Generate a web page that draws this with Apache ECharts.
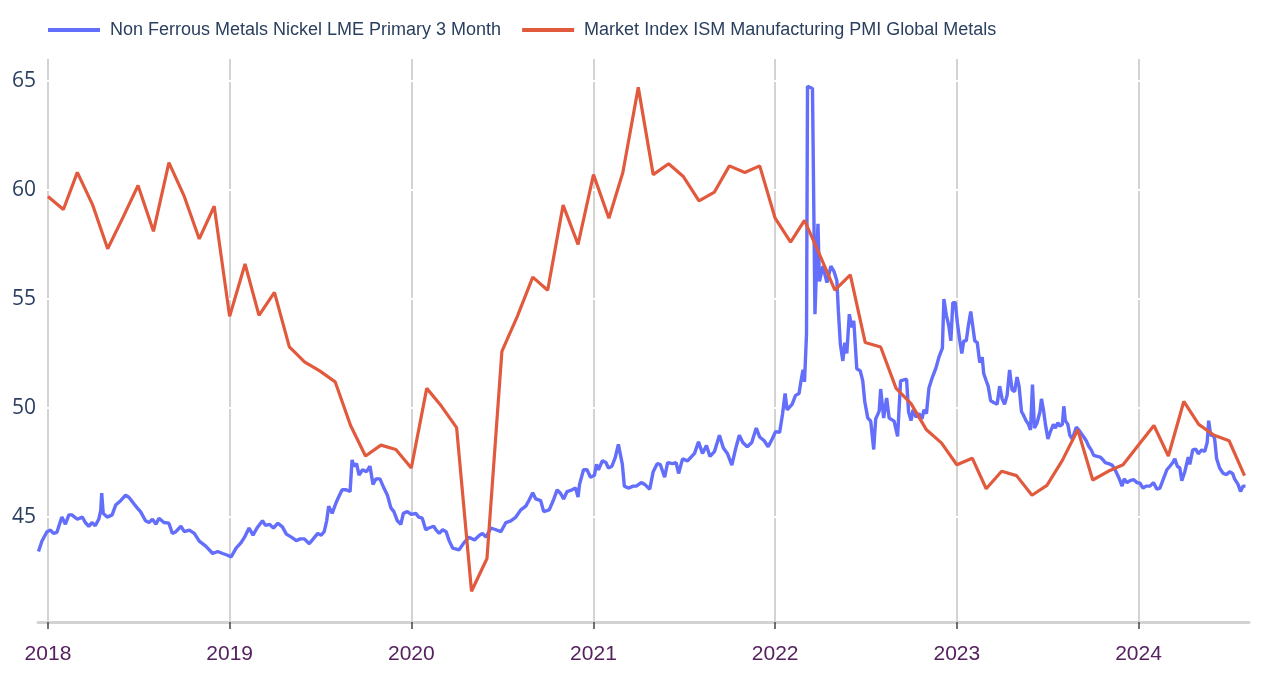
<!DOCTYPE html>
<html>
<head>
<meta charset="utf-8">
<script src="https://cdn.jsdelivr.net/npm/echarts@6/dist/echarts.min.js"></script>
<style>html,body{margin:0;padding:0;background:#fff;}#chart{width:1280px;height:684px;}</style>
</head>
<body>
<div id="chart"></div>
<script>
const seriesNames = ['Non Ferrous Metals Nickel LME Primary 3 Month', 'Market Index ISM Manufacturing PMI Global Metals'];
const yearTicks = [2018, 2019, 2020, 2021, 2022, 2023, 2024];
const yTicks = [45, 50, 55, 60, 65];

const nickelDates = [
'2017-12-13','2017-12-20','2017-12-30','2018-01-06','2018-01-12','2018-01-19','2018-01-26','2018-01-29','2018-02-05','2018-02-12',
'2018-02-18','2018-03-01','2018-03-11','2018-03-17','2018-03-24','2018-03-31','2018-04-06','2018-04-13','2018-04-17','2018-04-19',
'2018-04-22','2018-04-30','2018-05-10','2018-05-17','2018-05-27','2018-06-06','2018-06-13','2018-06-23','2018-06-30','2018-07-06',
'2018-07-16','2018-07-23','2018-07-30','2018-08-06','2018-08-12','2018-08-22','2018-09-01','2018-09-08','2018-09-15','2018-09-25',
'2018-10-02','2018-10-12','2018-10-22','2018-11-01','2018-11-14','2018-11-28','2018-12-08','2018-12-18','2018-12-28','2019-01-04',
'2019-01-14','2019-01-24','2019-01-31','2019-02-09','2019-02-17','2019-02-25','2019-03-08','2019-03-14','2019-03-22','2019-03-30',
'2019-04-08','2019-04-17','2019-04-25','2019-05-05','2019-05-15','2019-05-23','2019-05-31','2019-06-10','2019-06-18','2019-06-27',
'2019-07-04','2019-07-10','2019-07-15','2019-07-19','2019-07-26','2019-08-03','2019-08-08','2019-08-15','2019-08-23','2019-08-31',
'2019-09-04','2019-09-08','2019-09-13','2019-09-18','2019-09-25','2019-10-03','2019-10-10','2019-10-16','2019-10-22','2019-10-30',
'2019-11-07','2019-11-14','2019-11-21','2019-11-27','2019-12-04','2019-12-11','2019-12-16','2019-12-24','2020-01-01','2020-01-10',
'2020-01-16','2020-01-23','2020-01-30','2020-02-05','2020-02-15','2020-02-20','2020-02-26','2020-03-04','2020-03-11','2020-03-17',
'2020-03-24','2020-04-06','2020-04-16','2020-04-26','2020-05-07','2020-05-17','2020-05-23','2020-05-30','2020-06-09','2020-06-19',
'2020-06-29','2020-07-09','2020-07-19','2020-07-29','2020-08-08','2020-08-18','2020-08-24','2020-09-01','2020-09-07','2020-09-17',
'2020-09-23','2020-10-04','2020-10-12','2020-10-20','2020-10-27','2020-11-02','2020-11-09','2020-11-19','2020-11-26','2020-12-01',
'2020-12-04','2020-12-12','2020-12-19','2020-12-26','2021-01-03','2021-01-07','2021-01-11','2021-01-19','2021-01-26','2021-01-31',
'2021-02-07','2021-02-14','2021-02-20','2021-02-24','2021-02-28','2021-03-04','2021-03-12','2021-03-22','2021-03-28','2021-04-07',
'2021-04-14','2021-04-24','2021-05-01','2021-05-09','2021-05-15','2021-05-24','2021-05-30','2021-06-09','2021-06-16','2021-06-21',
'2021-06-29','2021-07-09','2021-07-16','2021-07-23','2021-07-31','2021-08-08','2021-08-16','2021-08-23','2021-09-01','2021-09-11',
'2021-09-19','2021-09-27','2021-10-06','2021-10-14','2021-10-21','2021-10-28','2021-11-06','2021-11-15','2021-11-24','2021-12-01',
'2021-12-10','2021-12-18','2021-12-26','2022-01-02','2022-01-10','2022-01-16','2022-01-21','2022-01-25','2022-02-04','2022-02-11',
'2022-02-18','2022-02-22','2022-02-26','2022-03-01','2022-03-05','2022-03-07','2022-03-17','2022-03-22','2022-03-28','2022-03-31',
'2022-04-07','2022-04-15','2022-04-23','2022-04-29','2022-05-05','2022-05-08','2022-05-12','2022-05-17','2022-05-21','2022-05-25',
'2022-05-30','2022-06-04','2022-06-08','2022-06-14','2022-06-21','2022-06-26','2022-06-30','2022-07-06','2022-07-12','2022-07-18',
'2022-07-22','2022-07-29','2022-08-01','2022-08-07','2022-08-13','2022-08-18','2022-08-28','2022-09-04','2022-09-10','2022-09-14',
'2022-09-22','2022-09-26','2022-10-01','2022-10-05','2022-10-11','2022-10-17','2022-10-23','2022-10-27','2022-11-01','2022-11-06',
'2022-11-13','2022-11-20','2022-11-26','2022-12-03','2022-12-06','2022-12-11','2022-12-16','2022-12-20','2022-12-24','2022-12-29',
'2023-01-02','2023-01-07','2023-01-11','2023-01-15','2023-01-20','2023-01-24','2023-01-29','2023-02-01','2023-02-06','2023-02-11',
'2023-02-16','2023-02-21','2023-02-24','2023-03-01','2023-03-05','2023-03-10','2023-03-16','2023-03-23','2023-03-28','2023-04-02',
'2023-04-07','2023-04-12','2023-04-17','2023-04-22','2023-04-27','2023-05-02','2023-05-06','2023-05-11','2023-05-15','2023-05-20',
'2023-05-25','2023-05-29','2023-06-02','2023-06-06','2023-06-11','2023-06-17','2023-06-20','2023-06-24','2023-06-28','2023-07-03',
'2023-07-08','2023-07-14','2023-07-18','2023-07-23','2023-07-27','2023-08-01','2023-08-04','2023-08-07','2023-08-12','2023-08-16',
'2023-08-21','2023-08-29','2023-09-03','2023-09-08','2023-09-13','2023-09-18','2023-09-23','2023-09-28','2023-10-03','2023-10-10',
'2023-10-16','2023-10-22','2023-10-26','2023-11-02','2023-11-09','2023-11-15','2023-11-22','2023-11-29','2023-12-03','2023-12-09',
'2023-12-15','2023-12-22','2023-12-29','2024-01-04','2024-01-10','2024-01-16','2024-01-24','2024-01-31','2024-02-07','2024-02-13',
'2024-02-20','2024-02-27','2024-03-04','2024-03-10','2024-03-14','2024-03-19','2024-03-24','2024-03-28','2024-04-03','2024-04-10',
'2024-04-13','2024-04-19','2024-04-25','2024-04-30','2024-05-07','2024-05-13','2024-05-18','2024-05-21','2024-05-25','2024-05-30',
'2024-06-02','2024-06-06','2024-06-12','2024-06-19','2024-06-26','2024-07-02','2024-07-08','2024-07-12','2024-07-19','2024-07-24',
'2024-07-29','2024-08-03'
];
const nickelValues = [
43.42,43.9,44.33,44.4,44.25,44.3,44.8,45.0,44.67,45.1,
45.1,44.9,45.0,44.75,44.58,44.75,44.6,44.9,45.3,46.1,
45.17,45.0,45.1,45.55,45.75,46.0,45.9,45.6,45.4,45.25,
44.83,44.75,44.9,44.67,44.95,44.75,44.72,44.25,44.33,44.58,
44.33,44.4,44.25,43.9,43.67,43.33,43.42,43.33,43.25,43.17,
43.58,43.83,44.08,44.5,44.17,44.5,44.83,44.62,44.67,44.5,
44.72,44.55,44.22,44.08,43.92,44.0,44.0,43.78,44.0,44.25,
44.17,44.33,44.83,45.5,45.17,45.67,45.92,46.25,46.25,46.17,
47.62,47.33,47.45,46.92,47.17,47.08,47.33,46.5,46.75,46.75,
46.33,46.0,45.42,45.25,44.83,44.67,45.17,45.25,45.12,45.17,
45.0,44.95,44.42,44.5,44.58,44.4,44.25,44.42,44.33,43.92,
43.58,43.5,43.83,44.08,43.95,44.17,44.25,44.08,44.5,44.42,
44.33,44.75,44.83,45.0,45.33,45.5,45.75,46.12,45.83,45.75,
45.25,45.33,45.75,46.25,46.08,45.83,46.17,46.25,46.33,45.92,
46.5,47.17,47.17,46.83,46.92,47.42,47.17,47.58,47.5,47.25,
47.33,47.75,48.33,48.25,47.42,46.42,46.33,46.42,46.42,46.58,
46.5,46.28,47.08,47.45,47.42,46.83,47.5,47.45,47.5,47.0,
47.67,47.58,47.75,47.92,48.45,47.92,48.28,47.78,48.0,48.75,
48.17,47.92,47.38,48.17,48.75,48.42,48.22,48.42,49.08,48.67,
48.5,48.22,48.58,48.92,48.88,49.75,50.67,49.92,50.17,50.58,
50.67,51.25,51.75,51.2,53.4,64.75,64.65,54.3,58.44,55.8,
56.5,55.75,56.5,56.28,55.83,54.45,52.93,52.16,53.0,52.5,
54.3,53.7,54.0,51.8,51.7,51.24,50.3,49.55,49.4,48.1,
49.5,49.86,50.87,49.54,50.46,49.54,49.4,48.7,51.24,51.33,
51.33,49.83,49.42,49.92,49.58,49.75,49.5,49.92,49.75,50.92,
51.42,51.83,52.33,52.75,55.0,54.25,53.75,53.08,54.83,54.83,
53.92,53.08,52.5,53.08,53.08,53.75,54.42,53.92,53.08,53.0,
52.08,52.33,51.58,51.25,51.0,50.33,50.25,50.17,51.0,50.42,
50.17,50.58,51.75,50.83,50.75,51.42,51.0,49.83,49.67,49.42,
49.25,49.0,51.08,49.08,49.3,49.83,50.42,49.92,49.25,48.58,
48.92,49.25,49.08,49.33,49.17,49.25,50.08,49.42,49.25,48.75,
48.58,49.12,49.0,48.83,48.67,48.5,48.25,48.08,47.83,47.78,
47.75,47.62,47.5,47.45,47.38,47.17,46.83,46.42,46.75,46.58,
46.67,46.72,46.58,46.55,46.33,46.42,46.42,46.58,46.28,46.33,
46.75,47.17,47.33,47.5,47.67,47.33,47.25,46.67,47.08,47.75,
47.42,48.08,48.12,47.9,48.08,48.0,48.42,49.42,48.75,48.75,
48.58,47.67,47.25,47.0,46.95,47.08,47.0,46.75,46.5,46.17,
46.42,46.42
];

// Monthly PMI values, first of each month from Jan 2018 to Aug 2024
const pmiStartYear = 2018;
const pmiValues = [
59.7,59.1,60.8,59.3,57.3,58.75,60.2,58.1,61.25,59.75,57.75,59.25,
54.2,56.6,54.25,55.3,52.8,52.1,51.7,51.2,49.2,47.8,48.3,48.1,
47.25,50.9,50.1,49.1,41.6,43.1,52.6,54.2,56.0,55.4,59.3,57.5,
60.7,58.7,60.8,64.7,60.7,61.2,60.6,59.5,59.9,61.1,60.8,61.1,
58.7,57.6,58.6,57.0,55.4,56.1,53.0,52.8,50.9,50.2,49.0,48.4,
47.4,47.7,46.3,47.1,46.9,46.0,46.45,47.6,49.0,46.7,47.1,47.4,
48.3,49.2,47.8,50.3,49.25,48.75,48.5,46.9
];

const xMinDate = '2017-12-12';
const xMaxDate = '2024-08-10';

function ts(s) { const p = s.split('-').map(Number); return Date.UTC(p[0], p[1] - 1, p[2]); }
const nickelData = nickelDates.map((d, i) => [ts(d), nickelValues[i]]);
const pmiData = pmiValues.map((v, i) => [Date.UTC(pmiStartYear + Math.floor(i / 12), i % 12, 1), v]);
const xTickValues = yearTicks.map(y => Date.UTC(y, 0, 1));

const FONT = 'Liberation Sans, Arial, Helvetica, sans-serif';
const chart = echarts.init(document.getElementById('chart'), null, {renderer: 'canvas'});
chart.setOption({
  animation: false,
  backgroundColor: '#ffffff',
  textStyle: {fontFamily: FONT},
  legend: {
    left: 48,
    top: 21,
    padding: 0,
    icon: 'rect',
    itemWidth: 52,
    itemHeight: 4,
    itemGap: 21,
    textStyle: {fontFamily: FONT, fontSize: 18, color: '#2a3f5f', padding: [0, 0, 0, 5]},
    data: seriesNames
  },
  grid: {left: 38, right: 31, top: 59, bottom: 62, containLabel: false},
  xAxis: {
    type: 'value',
    min: ts(xMinDate),
    max: ts(xMaxDate),
    axisLine: {show: true, lineStyle: {color: '#d3d3d3', width: 3}},
    axisTick: {show: true, customValues: xTickValues, length: 7, lineStyle: {color: '#444', width: 1.5}},
    axisLabel: {
      customValues: xTickValues,
      color: '#55215f',
      fontSize: 21,
      fontFamily: FONT,
      margin: 22,
      formatter: v => String(new Date(v).getUTCFullYear())
    },
    splitLine: {show: true, lineStyle: {color: '#d3d3d3', width: 2}}
  },
  yAxis: {
    type: 'value',
    min: 40.19,
    max: 66.0,
    z: 1,
    axisLine: {show: false},
    axisTick: {show: false, customValues: yTicks},
    axisLabel: {customValues: yTicks, color: '#2a3f5f', fontSize: 21, fontFamily: '"Open Sans", ' + FONT, margin: 2},
    splitLine: {show: true, lineStyle: {color: '#ffffff', width: 2}}
  },
  series: [
    {
      name: seriesNames[0],
      type: 'line',
      data: nickelData,
      showSymbol: false,
      symbol: 'none',
      lineStyle: {color: '#636efa', width: 3.4},
      itemStyle: {color: '#636efa'},
      z: 3
    },
    {
      name: seriesNames[1],
      type: 'line',
      data: pmiData,
      showSymbol: false,
      symbol: 'none',
      lineStyle: {color: '#e15a3e', width: 3.2},
      itemStyle: {color: '#e15a3e'},
      z: 4
    }
  ]
});
</script>
</body>
</html>
